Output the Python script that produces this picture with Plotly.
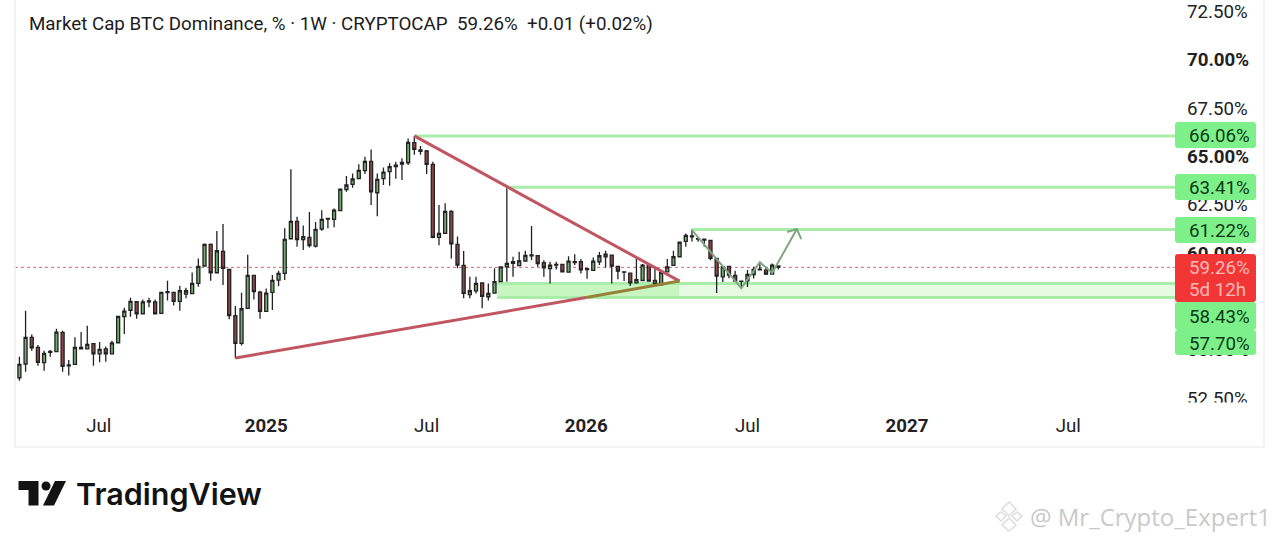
import pandas as pd
import plotly.graph_objects as go

dates = pd.date_range("2024-03-25", periods=124, freq="7D").strftime("%Y-%m-%d").tolist()

opens = [53.55,54.26,55.64,55.12,54.33,54.91,54.90,55.90,54.21,54.24,
55.04,55.04,55.31,54.78,55.04,54.78,55.36,56.71,57.04,57.48,
56.86,57.47,57.47,56.88,57.95,57.97,57.50,57.88,57.90,58.43,
59.33,60.45,58.98,60.09,59.15,56.76,55.33,57.14,58.85,57.98,
56.98,57.97,58.60,58.95,60.74,61.64,60.69,60.81,60.36,61.24,
61.76,61.74,62.19,63.28,63.55,63.85,64.26,64.74,63.12,63.85,
64.21,64.47,64.60,64.67,65.71,65.33,65.28,64.59,60.81,61.02,
62.16,60.45,59.36,57.85,58.04,58.45,57.74,57.93,58.52,59.28,
59.47,59.35,59.59,59.86,59.86,59.51,59.19,59.38,59.41,59.01,
59.56,59.55,59.19,59.10,59.55,59.81,59.89,59.31,59.03,58.96,
58.46,58.58,59.38,58.58,58.36,59.03,59.36,59.81,60.60,60.84,
60.75,60.72,60.65,59.72,58.77,59.31,58.84,58.55,58.56,58.89,
59.13,59.12,58.91,59.33]
closes = [54.24,55.64,55.10,54.35,54.81,54.86,55.91,54.14,54.16,55.12,
55.12,55.28,54.78,55.02,54.78,55.35,56.72,57.00,57.50,56.86,
57.47,57.52,56.86,57.97,58.00,57.50,58.05,58.05,58.43,59.31,
60.45,58.98,60.12,59.21,56.76,55.33,57.12,58.85,58.00,56.98,
57.93,58.59,58.95,60.71,61.64,60.69,60.85,60.38,61.22,61.74,
61.79,62.22,63.31,63.52,63.83,64.28,64.74,63.17,63.81,64.19,
64.47,64.55,64.69,65.72,65.36,65.26,64.59,60.81,61.02,62.16,
60.48,59.38,57.91,58.05,58.43,57.76,57.91,58.52,59.28,59.47,
59.55,59.60,59.88,59.90,59.46,59.24,59.38,59.41,59.03,59.58,
59.50,59.13,59.15,59.58,59.86,59.94,59.32,59.06,59.01,58.46,
58.63,59.38,58.55,58.36,58.99,59.29,59.81,60.56,60.91,60.89,
60.72,60.67,59.72,58.81,59.29,58.86,58.55,58.53,58.89,59.15,
59.17,58.91,59.38,59.26]
highs = [54.64,57.02,55.79,55.24,54.95,54.98,56.09,55.98,54.47,55.64,
55.91,56.24,55.33,55.40,55.16,55.47,56.74,57.17,57.69,57.50,
57.60,57.69,57.60,57.97,58.57,57.98,58.31,58.21,59.00,59.72,
60.50,60.50,61.14,61.50,59.17,57.26,57.95,59.91,58.85,58.05,
58.17,58.86,59.09,61.28,64.33,61.88,61.43,62.12,61.60,62.22,
61.79,62.31,63.33,63.98,64.12,64.59,64.98,65.36,64.12,64.43,
64.64,64.72,64.90,65.93,66.05,65.54,65.33,64.72,62.48,62.57,
62.22,60.85,60.10,58.78,58.78,58.47,58.43,59.21,59.29,63.43,
59.81,60.07,60.12,61.40,59.90,59.63,59.55,59.55,59.43,59.84,
59.94,59.69,59.20,59.77,60.06,60.12,59.91,59.32,59.05,58.98,
59.72,59.43,59.41,59.29,59.01,59.69,60.12,60.58,61.01,61.22,
60.81,60.74,60.67,59.74,59.32,59.32,59.08,58.56,59.12,59.29,
59.55,59.29,59.46,59.36]
lows = [53.40,53.86,54.95,54.17,53.91,54.64,54.90,53.86,53.66,54.21,
55.02,55.02,54.17,54.35,54.38,54.76,55.36,55.81,56.71,56.60,
56.85,57.19,56.85,56.86,57.55,57.29,57.02,57.66,57.88,58.26,
59.33,58.57,58.98,58.35,56.57,54.54,55.22,57.14,57.60,56.60,
56.97,57.05,58.28,58.60,60.74,60.33,60.16,60.29,60.29,61.16,
61.28,61.33,62.19,63.17,63.38,63.83,64.09,62.48,61.91,63.52,
63.48,63.85,63.78,64.55,65.09,65.09,64.09,60.76,60.41,60.98,
59.72,59.21,57.66,57.66,57.91,57.14,57.54,57.91,58.52,58.52,
58.78,59.33,59.55,59.64,59.29,58.77,58.43,59.15,59.01,58.99,
59.38,58.94,58.67,59.08,59.38,59.25,58.43,58.65,58.56,58.29,
58.46,58.56,58.53,58.32,58.34,59.01,59.34,59.79,60.32,60.60,
60.58,60.32,59.63,57.94,58.50,58.70,58.51,58.15,58.25,58.69,
59.12,58.87,58.89,59.15]

x_tickvals = ["2024-06-23","2024-12-30","2025-06-30","2025-12-28","2026-06-29","2026-12-27","2027-06-28"]
x_ticktext = ["Jul","<b>2025</b>","Jul","<b>2026</b>","Jul","<b>2027</b>","Jul"]
y_tickvals = [72.5,70,67.5,65,62.5,60,57.5,55,52.5]
y_ticktext = ["72.50%","<b>70.00%</b>","67.50%","<b>65.00%</b>","62.50%","<b>60.00%</b>","57.50%","<b>55.00%</b>","52.50%"]

level_prices = [66.06, 63.41, 61.22]
level_starts = ["2025-06-16", "2025-09-29", "2026-04-27"]
zone_top, zone_bottom = 58.43, 57.70
last_price = 59.26
trend_down_x = ["2025-06-16", "2026-04-13"]
trend_down_y = [66.06, 58.55]
trend_up_x = ["2024-11-25", "2025-12-28"]
trend_up_y = [54.57, 57.70]
trend_up2_x = ["2025-12-28", "2026-04-13"]
trend_up2_y = [57.70, 58.55]
arrow_x = ["2026-04-27", "2026-06-22", "2026-07-13", "2026-07-27", "2026-08-24"]
arrow_y = [61.19, 58.19, 59.53, 58.97, 61.24]
head_x = ["2026-08-13", "2026-08-24", "2026-08-29"]
head_y = [61.09, 61.24, 60.72]

L, R, B = 15, 1175, 405
def px(v): return (v - L) / (R - L)
def py(v): return (B - v) / B

fig = go.Figure()
GREEN_LINE = "#a9eda9"
for p, s in zip(level_prices, level_starts):
    fig.add_trace(go.Scatter(x=[s, "2027-10-27"], y=[p, p], mode="lines", line=dict(color=GREEN_LINE, width=3), hoverinfo="skip"))
fig.add_trace(go.Scatter(x=trend_down_x, y=trend_down_y, mode="lines", line=dict(color="#c05662", width=3), hoverinfo="skip"))
fig.add_trace(go.Scatter(x=trend_up_x, y=trend_up_y, mode="lines", line=dict(color="#c05662", width=3), hoverinfo="skip"))
fig.add_trace(go.Scatter(x=trend_up2_x, y=trend_up2_y, mode="lines", line=dict(color="#96803a", width=3), hoverinfo="skip"))
fig.add_trace(go.Candlestick(x=dates, open=opens, high=highs, low=lows, close=closes, whiskerwidth=0,
    increasing=dict(fillcolor="#72aa72", line=dict(color="#222222", width=1.3)),
    decreasing=dict(fillcolor="#8e4747", line=dict(color="#222222", width=1.3)), hoverinfo="skip"))
fig.add_trace(go.Scatter(x=arrow_x, y=arrow_y, mode="lines", line=dict(color="#7fa67f", width=2), hoverinfo="skip"))
fig.add_trace(go.Scatter(x=head_x, y=head_y, mode="lines", line=dict(color="#7fa67f", width=2), hoverinfo="skip"))

shapes = []
# zone
shapes.append(dict(type="rect", xref="x", yref="y", x0="2025-09-18", x1="2026-04-13", y0=zone_bottom, y1=zone_top,
                   fillcolor="#c8f6c0", line=dict(width=0), layer="below"))
shapes.append(dict(type="rect", xref="x", yref="y", x0="2026-04-13", x1="2027-10-27", y0=zone_bottom, y1=zone_top,
                   fillcolor="#e6fbe2", line=dict(width=0), layer="below"))
for z in (zone_top, zone_bottom):
    shapes.append(dict(type="line", xref="x", yref="y", x0="2025-09-18", x1="2027-10-27", y0=z, y1=z,
                       line=dict(color=GREEN_LINE, width=3), layer="below"))
shapes.append(dict(type="line", xref="paper", yref="y", x0=0, x1=1, y0=last_price, y1=last_price,
                   line=dict(color="#d46a6a", width=1, dash="dot"), layer="below"))
# panel border
shapes.append(dict(type="rect", xref="paper", yref="paper", x0=px(15), x1=px(1264), y0=py(447), y1=py(-2),
                   fillcolor="rgba(0,0,0,0)", line=dict(color="#f0f0f0", width=1.5), layer="below"))

def rbox(x0, x1, y0, y1, color, r=3):
    a, b, c, d = px(x0), px(x1), py(y0), py(y1)
    rx, ry = r / (R - L), r / B
    path = (f"M{a+rx},{c} L{b-rx},{c} Q{b},{c} {b},{c-ry} L{b},{d+ry} Q{b},{d} {b-rx},{d} "
            f"L{a+rx},{d} Q{a},{d} {a},{d+ry} L{a},{c-ry} Q{a},{c} {a+rx},{c} Z")
    return dict(type="path", xref="paper", yref="paper", path=path, fillcolor=color, line=dict(width=0), layer="above")

shapes.append(dict(type="rect", xref="paper", yref="paper", x0=px(1176), x1=px(1262), y0=py(412), y1=py(402.5),
                   fillcolor="white", line=dict(width=0), layer="above"))
BOX = "#7ef08a"
for y0, y1 in [(122,148),(174,200),(217,243),(302,330),(330,355)]:
    shapes.append(rbox(1175, 1256, y0, y1, BOX))
shapes.append(rbox(1175, 1256, 254, 302, "#f23636"))

# TradingView logo
def poly(pts, color):
    p = "M" + " L".join(f"{px(a)},{py(b)}" for a, b in pts) + " Z"
    return dict(type="path", xref="paper", yref="paper", path=p, fillcolor=color, line=dict(width=0), layer="above")
LOGO = "#131313"
shapes.append(poly([(18.5,481),(38.5,481),(38.5,505.5),(28.5,505.5),(28.5,490),(18.5,490)], LOGO))
shapes.append(poly([(55,481),(66,481),(54,505.5),(43,505.5)], LOGO))
shapes.append(dict(type="circle", xref="paper", yref="paper", x0=px(41.5), x1=px(50.5), y0=py(490.5), y1=py(481.5),
                   fillcolor=LOGO, line=dict(width=0), layer="above"))
# watermark icon
def outline(pts):
    p = "M" + " L".join(f"{px(a)},{py(b)}" for a, b in pts) + " Z"
    return dict(type="path", xref="paper", yref="paper", path=p, fillcolor="rgba(0,0,0,0)", line=dict(color="#dcdcdc", width=1.5), layer="above")
shapes.append(outline([(1009,502),(1016,509),(1009,516),(1002,509)]))
shapes.append(outline([(1009,518),(1016,525),(1009,531),(1002,525)]))
shapes.append(outline([(1001,512),(1006,516),(1001,521),(996,516)]))
shapes.append(outline([(1017,512),(1022,516),(1017,521),(1012,516)]))

def txt(s, x, y, size, color, anchor="left", weight=None, family="Roboto"):
    return dict(text=s, xref="paper", yref="paper", x=px(x), y=py(y), xanchor=anchor, yanchor="middle", showarrow=False,
                font=dict(family=family, size=size, color=color, weight=weight))

DARK = "#0b3a14"
annotations = [
    txt("Market Cap BTC Dominance, % · 1W · CRYPTOCAP\u00a0\u00a059.26%\u00a0\u00a0+0.01 (+0.02%)", 27, 24, 18.75, "#1c1c1c"),
    txt("66.06%", 1187, 136, 18.7, DARK), txt("63.41%", 1187, 188, 18.7, DARK), txt("61.22%", 1187, 231, 18.7, DARK),
    txt("59.26%", 1187, 268, 18.7, "#ffb9b9"), txt("5d 12h", 1187, 290, 18.7, "#ffb9b9"),
    txt("58.43%", 1187, 317, 18.7, DARK), txt("57.70%", 1187, 344, 18.7, DARK),
    txt("TradingView", 74, 494, 30.5, "#131313", weight=600, family="Inter"),
    txt("@ Mr_Crypto_Expert1", 1028, 516, 24, "#c9c9c9", family="Open Sans"),
]

fig.update_layout(
    width=1280, height=540, margin=dict(l=L, r=1280-R, t=0, b=540-B, autoexpand=False),
    paper_bgcolor="white", plot_bgcolor="white", showlegend=False, shapes=shapes, annotations=annotations,
    font=dict(family="Roboto", size=18.7, color="#222222"),
    xaxis=dict(type="date", range=["2024-03-20","2027-10-27"], rangeslider=dict(visible=False), showgrid=False, zeroline=False,
               showline=False, tickmode="array", tickvals=x_tickvals, ticktext=x_ticktext, ticks="", ticklabelstandoff=7,
               tickfont=dict(size=18.7, color="#222222")),
    yaxis=dict(side="right", range=[52.14, 73.09], showgrid=False, zeroline=False, showline=False, tickmode="array",
               tickvals=y_tickvals, ticktext=y_ticktext, ticks="", ticklabelstandoff=11, tickfont=dict(size=18.7, color="#222222")),
)
fig.write_html("out.html", config=dict(displayModeBar=False), post_script="document.body.style.margin='0';")
